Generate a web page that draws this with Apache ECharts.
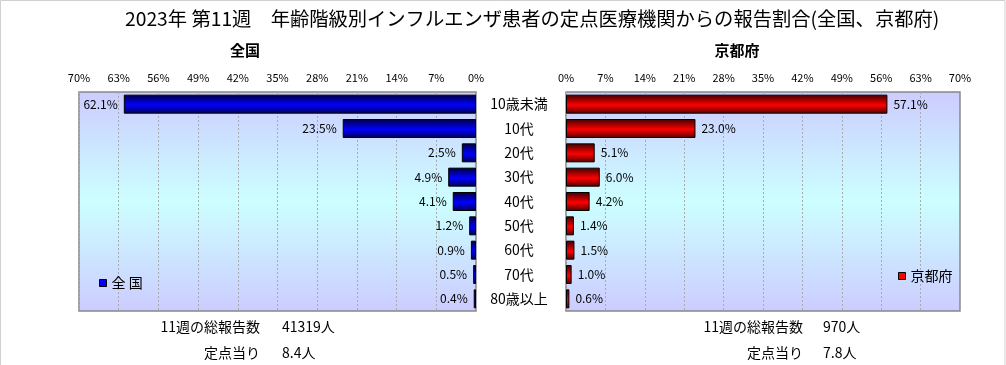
<!DOCTYPE html>
<html>
<head>
<meta charset="utf-8">
<script src="https://cdn.jsdelivr.net/npm/echarts@6/dist/echarts.min.js"></script>
<style>
html,body{margin:0;padding:0;background:#fff;}
#c{width:1006px;height:365px;}
</style>
</head>
<body>
<div id="c"></div>
<script>
// ---- data ----
var categories = ['10歳未満', '10代', '20代', '30代', '40代', '50代', '60代', '70代', '80歳以上'];
var nationalValues = [62.1, 23.5, 2.5, 4.9, 4.1, 1.2, 0.9, 0.5, 0.4];
var kyotoValues = [57.1, 23.0, 5.1, 6.0, 4.2, 1.4, 1.5, 1.0, 0.6];
var seriesNames = ['全 国', '京都府'];
var panelTitles = ['全国', '京都府'];
var titleText = '2023年 第11週　年齢階級別インフルエンザ患者の定点医療機関からの報告割合(全国、京都府)';
var totalReports = ['41319人', '970人'];
var perSentinel = ['8.4人', '7.8人'];
var weekLabel = '11週の総報告数';
var perLabel = '定点当り';
var axisMax = 70, axisStep = 7;

var FONT = '"Noto Sans CJK JP", "Noto Sans", sans-serif';
var chart = echarts.init(document.getElementById('c'));

function bg() {
  return new echarts.graphic.LinearGradient(0, 0, 0, 1, [
    {offset: 0, color: '#ccccff'},
    {offset: 0.5, color: '#ccffff'},
    {offset: 1, color: '#ccccff'}
  ]);
}
function barGrad(dark, bright, dark2) {
  return new echarts.graphic.LinearGradient(0, 0, 0, 1, [
    {offset: 0, color: dark},
    {offset: 0.55, color: bright},
    {offset: 1, color: dark2}
  ]);
}
function xAx(idx, inverse) {
  return {
    type: 'value', gridIndex: idx, position: 'top', inverse: inverse,
    min: 0, max: axisMax, interval: axisStep,
    axisLine: {show: false},
    axisTick: {show: false},
    axisLabel: {formatter: '{value}%', fontSize: 11, color: '#000', margin: 9, fontFamily: FONT},
    splitLine: {show: true, lineStyle: {color: '#aaaaaa', type: [2, 2], width: 1}}
  };
}
function labelText(p) { return p.value.toFixed(1) + '%'; }

function txt(x, y, s, align, size, weight) {
  return {type: 'text', x: x, y: y, style: {
    text: s, x: 0, y: 0, textAlign: align, textVerticalAlign: 'middle',
    fontSize: size || 14, fontWeight: weight || 'normal', fill: '#000', fontFamily: FONT}};
}

chart.setOption({
  backgroundColor: '#fff',
  animation: false,
  textStyle: {fontFamily: FONT},
  title: {
    text: titleText, left: 120, top: 4,
    textStyle: {fontSize: 19.3, fontWeight: 'normal', color: '#000', fontFamily: FONT}
  },
  legend: [
    {data: [{name: seriesNames[0], itemStyle: {color: '#0000ff', borderColor: '#000', borderWidth: 1}}],
     left: 94, top: 271, icon: 'rect', itemWidth: 7, itemHeight: 7,
     textStyle: {fontSize: 14, color: '#000', fontFamily: FONT}, selectedMode: false},
    {data: [{name: seriesNames[1], itemStyle: {color: '#ff0000', borderColor: '#000', borderWidth: 1}}],
     left: 893, top: 264, icon: 'rect', itemWidth: 7, itemHeight: 7,
     textStyle: {fontSize: 14, color: '#000', fontFamily: FONT}, selectedMode: false}
  ],
  grid: [
    {left: 79, right: 530, top: 92, bottom: 54, show: true, backgroundColor: bg(), borderColor: '#888', borderWidth: 1.5},
    {left: 566, right: 46, top: 92, bottom: 54, show: true, backgroundColor: bg(), borderColor: '#888', borderWidth: 1.5}
  ],
  xAxis: [xAx(0, true), xAx(1, false)],
  yAxis: [
    {type: 'category', gridIndex: 0, data: categories, inverse: true,
     axisLine: {show: false}, axisTick: {show: false}, axisLabel: {show: false}},
    {type: 'category', gridIndex: 1, data: categories, inverse: true,
     axisLine: {show: false}, axisTick: {show: false},
     axisLabel: {align: 'center', margin: 47, fontSize: 14, color: '#000', fontFamily: FONT}}
  ],
  series: [
    {name: seriesNames[0], type: 'bar', xAxisIndex: 0, yAxisIndex: 0, data: nationalValues, barWidth: 19,
     itemStyle: {color: barGrad('#000040', '#0000ff', '#000050'), borderColor: '#000', borderWidth: 1},
     label: {show: true, position: 'left', distance: 6, formatter: labelText, fontSize: 12, color: '#000', fontFamily: FONT}},
    {name: seriesNames[1], type: 'bar', xAxisIndex: 1, yAxisIndex: 1, data: kyotoValues, barWidth: 19,
     itemStyle: {color: barGrad('#400000', '#ff0000', '#500000'), borderColor: '#000', borderWidth: 1},
     label: {show: true, position: 'right', distance: 6, formatter: labelText, fontSize: 12, color: '#000', fontFamily: FONT}}
  ],
  graphic: [
    {type: 'rect', shape: {x: 0.5, y: 0.5, width: 1004.5, height: 370}, style: {fill: 'none', stroke: '#d0d0d0', lineWidth: 1}, silent: true, z: -1},
    txt(245, 50, panelTitles[0], 'center', 15, 'bold'),
    txt(737, 50, panelTitles[1], 'center', 15, 'bold'),
    txt(260, 327, weekLabel, 'right'),
    txt(282, 327, totalReports[0], 'left'),
    txt(260, 353, perLabel, 'right'),
    txt(282, 353, perSentinel[0], 'left'),
    txt(803, 327, weekLabel, 'right'),
    txt(823, 327, totalReports[1], 'left'),
    txt(803, 353, perLabel, 'right'),
    txt(823, 353, perSentinel[1], 'left')
  ]
});
</script>
</body>
</html>
